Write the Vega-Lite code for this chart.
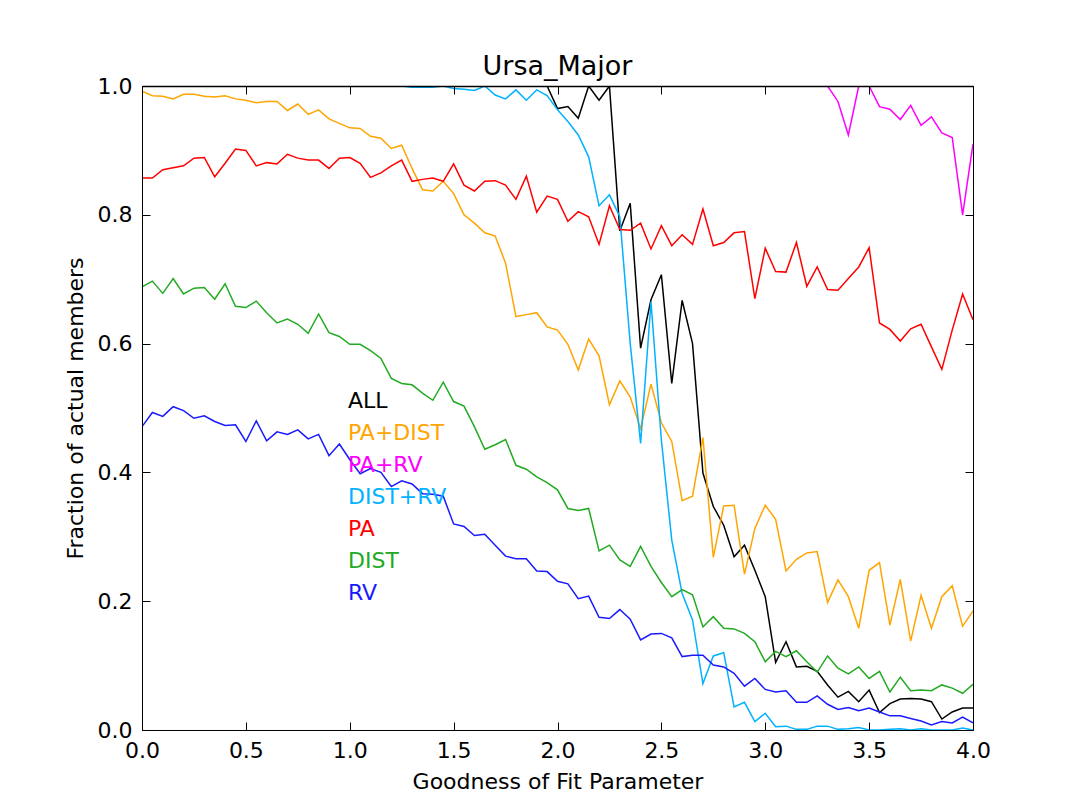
{
  "$schema": "https://vega.github.io/schema/vega-lite/v6.json",
  "width": 831,
  "height": 644,
  "autosize": {"type": "none"},
  "padding": {"left": 142, "top": 86, "right": 94, "bottom": 77},
  "background": "white",
  "config": {
    "font": "DejaVu Sans",
    "view": {"stroke": null},
    "axis": {"grid": false, "domainColor": "black", "domainWidth": 1, "tickColor": "black", "tickWidth": 1, "labelColor": "black", "titleColor": "black", "labelFontSize": 22, "titleFontSize": 22, "titleFontWeight": "normal", "labelFont": "DejaVu Sans", "titleFont": "DejaVu Sans"}
  },
  "title": {"text": "Ursa_Major", "fontSize": 27, "fontWeight": "normal", "color": "black", "font": "DejaVu Sans", "baseline": "alphabetic", "offset": 10, "dy": 37},
  "data": {"values": [
    {"x":0,"ALL":1,"PA_DIST":0.992,"PA_RV":1,"DIST_RV":1,"PA":0.857,"DIST":0.688,"RV":0.471},
    {"x":0.05,"ALL":1,"PA_DIST":0.985,"PA_RV":1,"DIST_RV":1,"PA":0.857,"DIST":0.697,"RV":0.493},
    {"x":0.1,"ALL":1,"PA_DIST":0.984,"PA_RV":1,"DIST_RV":1,"PA":0.870,"DIST":0.678,"RV":0.487},
    {"x":0.15,"ALL":1,"PA_DIST":0.980,"PA_RV":1,"DIST_RV":1,"PA":0.873,"DIST":0.701,"RV":0.502},
    {"x":0.2,"ALL":1,"PA_DIST":0.987,"PA_RV":1,"DIST_RV":1,"PA":0.876,"DIST":0.677,"RV":0.496},
    {"x":0.25,"ALL":1,"PA_DIST":0.987,"PA_RV":1,"DIST_RV":1,"PA":0.888,"DIST":0.686,"RV":0.484},
    {"x":0.3,"ALL":1,"PA_DIST":0.984,"PA_RV":1,"DIST_RV":1,"PA":0.889,"DIST":0.687,"RV":0.488},
    {"x":0.35,"ALL":1,"PA_DIST":0.983,"PA_RV":1,"DIST_RV":1,"PA":0.859,"DIST":0.669,"RV":0.479},
    {"x":0.4,"ALL":1,"PA_DIST":0.985,"PA_RV":1,"DIST_RV":1,"PA":0.880,"DIST":0.693,"RV":0.473},
    {"x":0.45,"ALL":1,"PA_DIST":0.980,"PA_RV":1,"DIST_RV":1,"PA":0.902,"DIST":0.658,"RV":0.474},
    {"x":0.5,"ALL":1,"PA_DIST":0.978,"PA_RV":1,"DIST_RV":1,"PA":0.900,"DIST":0.656,"RV":0.448},
    {"x":0.55,"ALL":1,"PA_DIST":0.974,"PA_RV":1,"DIST_RV":1,"PA":0.876,"DIST":0.666,"RV":0.480},
    {"x":0.6,"ALL":1,"PA_DIST":0.976,"PA_RV":1,"DIST_RV":1,"PA":0.881,"DIST":0.648,"RV":0.449},
    {"x":0.65,"ALL":1,"PA_DIST":0.976,"PA_RV":1,"DIST_RV":1,"PA":0.879,"DIST":0.632,"RV":0.463},
    {"x":0.7,"ALL":1,"PA_DIST":0.962,"PA_RV":1,"DIST_RV":1,"PA":0.894,"DIST":0.638,"RV":0.459},
    {"x":0.75,"ALL":1,"PA_DIST":0.972,"PA_RV":1,"DIST_RV":1,"PA":0.888,"DIST":0.630,"RV":0.466},
    {"x":0.8,"ALL":1,"PA_DIST":0.956,"PA_RV":1,"DIST_RV":1,"PA":0.885,"DIST":0.616,"RV":0.452},
    {"x":0.85,"ALL":1,"PA_DIST":0.963,"PA_RV":1,"DIST_RV":1,"PA":0.885,"DIST":0.646,"RV":0.459},
    {"x":0.9,"ALL":1,"PA_DIST":0.949,"PA_RV":1,"DIST_RV":1,"PA":0.872,"DIST":0.617,"RV":0.426},
    {"x":0.95,"ALL":1,"PA_DIST":0.942,"PA_RV":1,"DIST_RV":1,"PA":0.888,"DIST":0.611,"RV":0.444},
    {"x":1.0,"ALL":1,"PA_DIST":0.935,"PA_RV":1,"DIST_RV":1,"PA":0.889,"DIST":0.599,"RV":0.420},
    {"x":1.05,"ALL":1,"PA_DIST":0.934,"PA_RV":1,"DIST_RV":1,"PA":0.880,"DIST":0.599,"RV":0.398},
    {"x":1.1,"ALL":1,"PA_DIST":0.922,"PA_RV":1,"DIST_RV":1,"PA":0.858,"DIST":0.589,"RV":0.406},
    {"x":1.15,"ALL":1,"PA_DIST":0.919,"PA_RV":1,"DIST_RV":1,"PA":0.865,"DIST":0.577,"RV":0.400},
    {"x":1.2,"ALL":1,"PA_DIST":0.903,"PA_RV":1,"DIST_RV":1,"PA":0.876,"DIST":0.546,"RV":0.378},
    {"x":1.25,"ALL":1,"PA_DIST":0.908,"PA_RV":1,"DIST_RV":1,"PA":0.885,"DIST":0.538,"RV":0.387},
    {"x":1.3,"ALL":1,"PA_DIST":0.872,"PA_RV":1,"DIST_RV":0.998,"PA":0.852,"DIST":0.536,"RV":0.382},
    {"x":1.35,"ALL":1,"PA_DIST":0.839,"PA_RV":1,"DIST_RV":0.998,"PA":0.855,"DIST":0.523,"RV":0.367},
    {"x":1.4,"ALL":1,"PA_DIST":0.837,"PA_RV":1,"DIST_RV":0.998,"PA":0.857,"DIST":0.512,"RV":0.366},
    {"x":1.45,"ALL":1,"PA_DIST":0.852,"PA_RV":1,"DIST_RV":1,"PA":0.852,"DIST":0.540,"RV":0.363},
    {"x":1.5,"ALL":1,"PA_DIST":0.833,"PA_RV":1,"DIST_RV":0.996,"PA":0.879,"DIST":0.510,"RV":0.320},
    {"x":1.55,"ALL":1,"PA_DIST":0.800,"PA_RV":1,"DIST_RV":0.995,"PA":0.846,"DIST":0.503,"RV":0.316},
    {"x":1.6,"ALL":1,"PA_DIST":0.787,"PA_RV":1,"DIST_RV":0.993,"PA":0.837,"DIST":0.471,"RV":0.302},
    {"x":1.65,"ALL":1,"PA_DIST":0.772,"PA_RV":1,"DIST_RV":1,"PA":0.852,"DIST":0.436,"RV":0.304},
    {"x":1.7,"ALL":1,"PA_DIST":0.767,"PA_RV":1,"DIST_RV":0.986,"PA":0.853,"DIST":0.443,"RV":0.287},
    {"x":1.75,"ALL":1,"PA_DIST":0.725,"PA_RV":1,"DIST_RV":0.980,"PA":0.846,"DIST":0.451,"RV":0.270},
    {"x":1.8,"ALL":1,"PA_DIST":0.642,"PA_RV":1,"DIST_RV":0.994,"PA":0.824,"DIST":0.411,"RV":0.266},
    {"x":1.85,"ALL":1,"PA_DIST":0.645,"PA_RV":1,"DIST_RV":0.978,"PA":0.860,"DIST":0.405,"RV":0.266},
    {"x":1.9,"ALL":1,"PA_DIST":0.648,"PA_RV":1,"DIST_RV":0.994,"PA":0.804,"DIST":0.393,"RV":0.247},
    {"x":1.95,"ALL":1,"PA_DIST":0.626,"PA_RV":1,"DIST_RV":0.985,"PA":0.829,"DIST":0.384,"RV":0.246},
    {"x":2.0,"ALL":0.965,"PA_DIST":0.621,"PA_RV":1,"DIST_RV":0.963,"PA":0.824,"DIST":0.373,"RV":0.231},
    {"x":2.05,"ALL":0.968,"PA_DIST":0.599,"PA_RV":1,"DIST_RV":0.945,"PA":0.790,"DIST":0.344,"RV":0.227},
    {"x":2.1,"ALL":0.950,"PA_DIST":0.559,"PA_RV":1,"DIST_RV":0.924,"PA":0.805,"DIST":0.341,"RV":0.204},
    {"x":2.15,"ALL":1,"PA_DIST":0.607,"PA_RV":1,"DIST_RV":0.890,"PA":0.797,"DIST":0.344,"RV":0.208},
    {"x":2.2,"ALL":0.978,"PA_DIST":0.581,"PA_RV":1,"DIST_RV":0.814,"PA":0.754,"DIST":0.278,"RV":0.175},
    {"x":2.25,"ALL":1,"PA_DIST":0.505,"PA_RV":1,"DIST_RV":0.831,"PA":0.814,"DIST":0.287,"RV":0.173},
    {"x":2.3,"ALL":0.775,"PA_DIST":0.542,"PA_RV":1,"DIST_RV":0.797,"PA":0.777,"DIST":0.264,"RV":0.187},
    {"x":2.35,"ALL":0.818,"PA_DIST":0.517,"PA_RV":1,"DIST_RV":0.600,"PA":0.776,"DIST":0.254,"RV":0.172},
    {"x":2.4,"ALL":0.593,"PA_DIST":0.468,"PA_RV":1,"DIST_RV":0.445,"PA":0.787,"DIST":0.285,"RV":0.140},
    {"x":2.45,"ALL":0.668,"PA_DIST":0.537,"PA_RV":1,"DIST_RV":0.665,"PA":0.747,"DIST":0.254,"RV":0.149},
    {"x":2.5,"ALL":0.707,"PA_DIST":0.477,"PA_RV":1,"DIST_RV":0.450,"PA":0.783,"DIST":0.229,"RV":0.150},
    {"x":2.55,"ALL":0.538,"PA_DIST":0.448,"PA_RV":1,"DIST_RV":0.295,"PA":0.752,"DIST":0.207,"RV":0.143},
    {"x":2.6,"ALL":0.667,"PA_DIST":0.356,"PA_RV":1,"DIST_RV":0.212,"PA":0.769,"DIST":0.218,"RV":0.114},
    {"x":2.65,"ALL":0.600,"PA_DIST":0.363,"PA_RV":1,"DIST_RV":0.171,"PA":0.754,"DIST":0.210,"RV":0.116},
    {"x":2.7,"ALL":0.399,"PA_DIST":0.454,"PA_RV":1,"DIST_RV":0.072,"PA":0.809,"DIST":0.160,"RV":0.116},
    {"x":2.75,"ALL":0.347,"PA_DIST":0.268,"PA_RV":1,"DIST_RV":0.115,"PA":0.752,"DIST":0.176,"RV":0.101},
    {"x":2.8,"ALL":0.318,"PA_DIST":0.348,"PA_RV":1,"DIST_RV":0.120,"PA":0.757,"DIST":0.158,"RV":0.098},
    {"x":2.85,"ALL":0.269,"PA_DIST":0.349,"PA_RV":1,"DIST_RV":0.036,"PA":0.772,"DIST":0.157,"RV":0.088},
    {"x":2.9,"ALL":0.287,"PA_DIST":0.242,"PA_RV":1,"DIST_RV":0.043,"PA":0.774,"DIST":0.150,"RV":0.068},
    {"x":2.95,"ALL":0.248,"PA_DIST":0.313,"PA_RV":1,"DIST_RV":0.013,"PA":0.670,"DIST":0.137,"RV":0.080},
    {"x":3.0,"ALL":0.207,"PA_DIST":0.349,"PA_RV":1,"DIST_RV":0.026,"PA":0.748,"DIST":0.106,"RV":0.063},
    {"x":3.05,"ALL":0.105,"PA_DIST":0.327,"PA_RV":1,"DIST_RV":0.005,"PA":0.712,"DIST":0.122,"RV":0.059},
    {"x":3.1,"ALL":0.137,"PA_DIST":0.247,"PA_RV":1,"DIST_RV":0.006,"PA":0.711,"DIST":0.114,"RV":0.061},
    {"x":3.15,"ALL":0.098,"PA_DIST":0.265,"PA_RV":1,"DIST_RV":0.001,"PA":0.757,"DIST":0.123,"RV":0.043},
    {"x":3.2,"ALL":0.099,"PA_DIST":0.275,"PA_RV":1,"DIST_RV":0.001,"PA":0.689,"DIST":0.106,"RV":0.043},
    {"x":3.25,"ALL":0.091,"PA_DIST":0.277,"PA_RV":1,"DIST_RV":0.006,"PA":0.719,"DIST":0.090,"RV":0.053},
    {"x":3.3,"ALL":0.070,"PA_DIST":0.198,"PA_RV":1,"DIST_RV":0.006,"PA":0.684,"DIST":0.115,"RV":0.040},
    {"x":3.35,"ALL":0.051,"PA_DIST":0.233,"PA_RV":0.976,"DIST_RV":0.001,"PA":0.683,"DIST":0.096,"RV":0.032},
    {"x":3.4,"ALL":0.060,"PA_DIST":0.207,"PA_RV":0.924,"DIST_RV":0.002,"PA":0.701,"DIST":0.087,"RV":0.035},
    {"x":3.45,"ALL":0.044,"PA_DIST":0.158,"PA_RV":1,"DIST_RV":0.004,"PA":0.719,"DIST":0.098,"RV":0.030},
    {"x":3.5,"ALL":0.062,"PA_DIST":0.248,"PA_RV":1,"DIST_RV":0,"PA":0.749,"DIST":0.080,"RV":0.034},
    {"x":3.55,"ALL":0.027,"PA_DIST":0.260,"PA_RV":0.968,"DIST_RV":0,"PA":0.632,"DIST":0.091,"RV":0.028},
    {"x":3.6,"ALL":0.041,"PA_DIST":0.163,"PA_RV":0.964,"DIST_RV":0.001,"PA":0.622,"DIST":0.059,"RV":0.022},
    {"x":3.65,"ALL":0.048,"PA_DIST":0.234,"PA_RV":0.948,"DIST_RV":0.002,"PA":0.604,"DIST":0.082,"RV":0.022},
    {"x":3.7,"ALL":0.049,"PA_DIST":0.138,"PA_RV":0.970,"DIST_RV":0,"PA":0.623,"DIST":0.061,"RV":0.018},
    {"x":3.75,"ALL":0.048,"PA_DIST":0.209,"PA_RV":0.939,"DIST_RV":0.002,"PA":0.630,"DIST":0.062,"RV":0.014},
    {"x":3.8,"ALL":0.044,"PA_DIST":0.158,"PA_RV":0.952,"DIST_RV":0,"PA":0.595,"DIST":0.061,"RV":0.008},
    {"x":3.85,"ALL":0.017,"PA_DIST":0.207,"PA_RV":0.927,"DIST_RV":0,"PA":0.560,"DIST":0.070,"RV":0.013},
    {"x":3.9,"ALL":0.028,"PA_DIST":0.224,"PA_RV":0.920,"DIST_RV":0,"PA":0.621,"DIST":0.065,"RV":0.011},
    {"x":3.95,"ALL":0.034,"PA_DIST":0.161,"PA_RV":0.800,"DIST_RV":0.003,"PA":0.677,"DIST":0.057,"RV":0.020},
    {"x":4.0,"ALL":0.034,"PA_DIST":0.185,"PA_RV":0.910,"DIST_RV":0,"PA":0.637,"DIST":0.071,"RV":0.011}
  ]},
  "transform": [{"fold": ["ALL", "PA_DIST", "PA_RV", "DIST_RV", "PA", "DIST", "RV"], "as": ["series", "value"]}],
  "layer": [
    {
      "mark": {"type": "line", "strokeWidth": 1.5, "clip": true},
      "encoding": {
        "x": {"field": "x", "type": "quantitative", "scale": {"domain": [0, 4], "nice": false, "zero": false},
              "axis": {"orient": "bottom", "zindex": 1, "title": "Goodness of Fit Parameter", "values": [0, 0.5, 1, 1.5, 2, 2.5, 3, 3.5, 4], "format": ".1f", "labelFlush": false, "tickSize": -8, "labelPadding": 18, "titlePadding": 10, "labelOverlap": false}},
        "y": {"field": "value", "type": "quantitative", "scale": {"domain": [0, 1], "nice": false, "zero": false},
              "axis": {"orient": "left", "zindex": 1, "title": "Fraction of actual members", "values": [0, 0.2, 0.4, 0.6, 0.8, 1], "format": ".1f", "labelFlush": false, "tickSize": -8, "labelPadding": 18, "titlePadding": 10, "labelOverlap": false}},
        "color": {"field": "series", "type": "nominal",
                  "scale": {"domain": ["ALL", "PA_DIST", "PA_RV", "DIST_RV", "PA", "DIST", "RV"], "range": ["#000000", "#FFA500", "#FF00FF", "#00B2FF", "#FF0000", "#22AA22", "#1A1AFF"]},
                  "legend": {"orient": "none", "legendX": 184, "legendY": 304, "title": null, "symbolSize": 0, "symbolStrokeWidth": 0, "symbolOpacity": 0, "labelOffset": 0, "padding": 0, "rowPadding": 10, "labelFontSize": 22, "labelFont": "DejaVu Sans", "labelLimit": 0, "zindex": 2,
                             "labelExpr": "replace(datum.label, '_', '+')",
                             "encode": {"labels": {"update": {"fill": {"scale": "color", "field": "value"}}}}}}
      }
    },
    {
      "mark": {"type": "line", "strokeOpacity": 0},
      "encoding": {
        "x": {"field": "x", "type": "quantitative", "scale": {"domain": [0, 4], "nice": false, "zero": false},
              "axis": {"orient": "top", "zindex": 1, "title": null, "labels": false, "values": [0, 0.5, 1, 1.5, 2, 2.5, 3, 3.5, 4], "tickSize": -8, "domainWidth": 1.6}},
        "y": {"field": "value", "type": "quantitative", "scale": {"domain": [0, 1], "nice": false, "zero": false},
              "axis": {"orient": "right", "zindex": 1, "title": null, "labels": false, "values": [0, 0.2, 0.4, 0.6, 0.8, 1], "tickSize": -8}},
        "detail": {"field": "series"}
      }
    }
  ],
  "resolve": {"axis": {"x": "independent", "y": "independent"}}
}
